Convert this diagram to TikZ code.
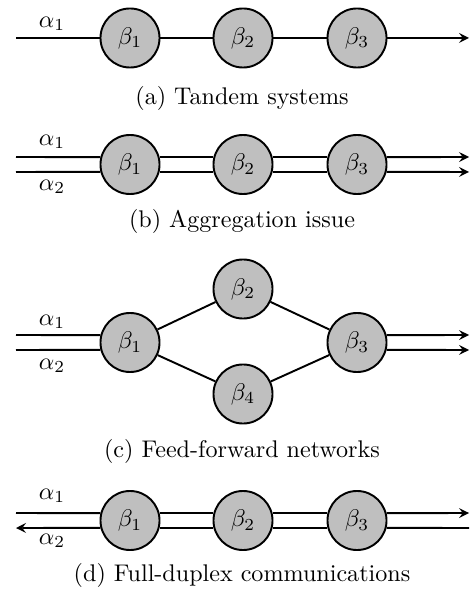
\documentclass[tikz,border=0pt]{standalone}
\usepackage{tikz}
\usetikzlibrary{arrows}
\tikzstyle{srv} = [draw=black, fill=black!25, circle, thick, minimum size=24.5pt, inner sep=0pt]
\tikzstyle{flow} = [thick]
\tikzstyle{flowout} = [flow, ->, >=stealth]
\tikzstyle{flowin} = [flow, <-, >=stealth]

\begin{document}
\begin{tikzpicture}[x=0.415pt, y=-0.415pt]
  \useasboundingbox (0,0) rectangle (473,591);
  % (a) tandem
  \coordinate (ain) at (16,38);
  \coordinate (aout) at (469,38);
  \node[srv](a1) at (130,38){$\beta_1$};
  \node[srv](a2) at (243,38){$\beta_2$};
  \node[srv](a3) at (357,38){$\beta_3$};
  \node(aal1) at (52,24){$\alpha_1$};
  \node(acap) at (242,98){(a) Tandem systems};
  \draw[flow](ain)--(a1);
  \draw[flow](a1)--(a2);
  \draw[flow](a2)--(a3);
  \draw[flowout](a3)--(aout);
  % (b) aggregation
  \coordinate (bin1) at (16,157);
  \coordinate (bin2) at (16,172);
  \coordinate (bout1) at (469,157);
  \coordinate (bout2) at (469,172);
  \node[srv](b1) at (130,164.5){$\beta_1$};
  \node[srv](b2) at (243,164.5){$\beta_2$};
  \node[srv](b3) at (357,164.5){$\beta_3$};
  \node(bal1) at (52,142){$\alpha_1$};
  \node(bal2) at (52,187){$\alpha_2$};
  \node(bcap) at (242,221){(b) Aggregation issue};
  \draw[flow](bin1)--(b1.166);
  \draw[flow](bin2)--(b1.194);
  \draw[flow](b1.14)--(b2.166);
  \draw[flow](b1.346)--(b2.194);
  \draw[flow](b2.14)--(b3.166);
  \draw[flow](b2.346)--(b3.194);
  \draw[flowout](b3.14)--(bout1);
  \draw[flowout](b3.346)--(bout2);
  % (c) feed-forward
  \coordinate (cin1) at (16,335);
  \coordinate (cin2) at (16,350);
  \coordinate (cout1) at (469,335);
  \coordinate (cout2) at (469,350);
  \node[srv](c1) at (130,342.5){$\beta_1$};
  \node[srv](c2) at (243,289){$\beta_2$};
  \node[srv](c4) at (243,394){$\beta_4$};
  \node[srv](c3) at (357,342.5){$\beta_3$};
  \node(cal1) at (52,322){$\alpha_1$};
  \node(cal2) at (52,366){$\alpha_2$};
  \node(ccap) at (242,451){(c) Feed-forward networks};
  \draw[flow](cin1)--(c1.166);
  \draw[flow](cin2)--(c1.194);
  \draw[flow](c1)--(c2);
  \draw[flow](c1)--(c4);
  \draw[flow](c2)--(c3);
  \draw[flow](c4)--(c3);
  \draw[flowout](c3.14)--(cout1);
  \draw[flowout](c3.346)--(cout2);
  % (d) full-duplex
  \coordinate (din1) at (16,513);
  \coordinate (din2) at (16,528);
  \coordinate (dout1) at (469,513);
  \coordinate (dout2) at (469,528);
  \node[srv](d1) at (130,520.5){$\beta_1$};
  \node[srv](d2) at (243,520.5){$\beta_2$};
  \node[srv](d3) at (357,520.5){$\beta_3$};
  \node(dal1) at (52,496){$\alpha_1$};
  \node(dal2) at (52,541){$\alpha_2$};
  \node(dcap) at (242,575){(d) Full-duplex communications};
  \draw[flow](din1)--(d1.166);
  \draw[flowin](din2)--(d1.194);
  \draw[flow](d1.14)--(d2.166);
  \draw[flow](d1.346)--(d2.194);
  \draw[flow](d2.14)--(d3.166);
  \draw[flow](d2.346)--(d3.194);
  \draw[flowout](d3.14)--(dout1);
  \draw[flow](d3.346)--(dout2);
\end{tikzpicture}
\end{document}
